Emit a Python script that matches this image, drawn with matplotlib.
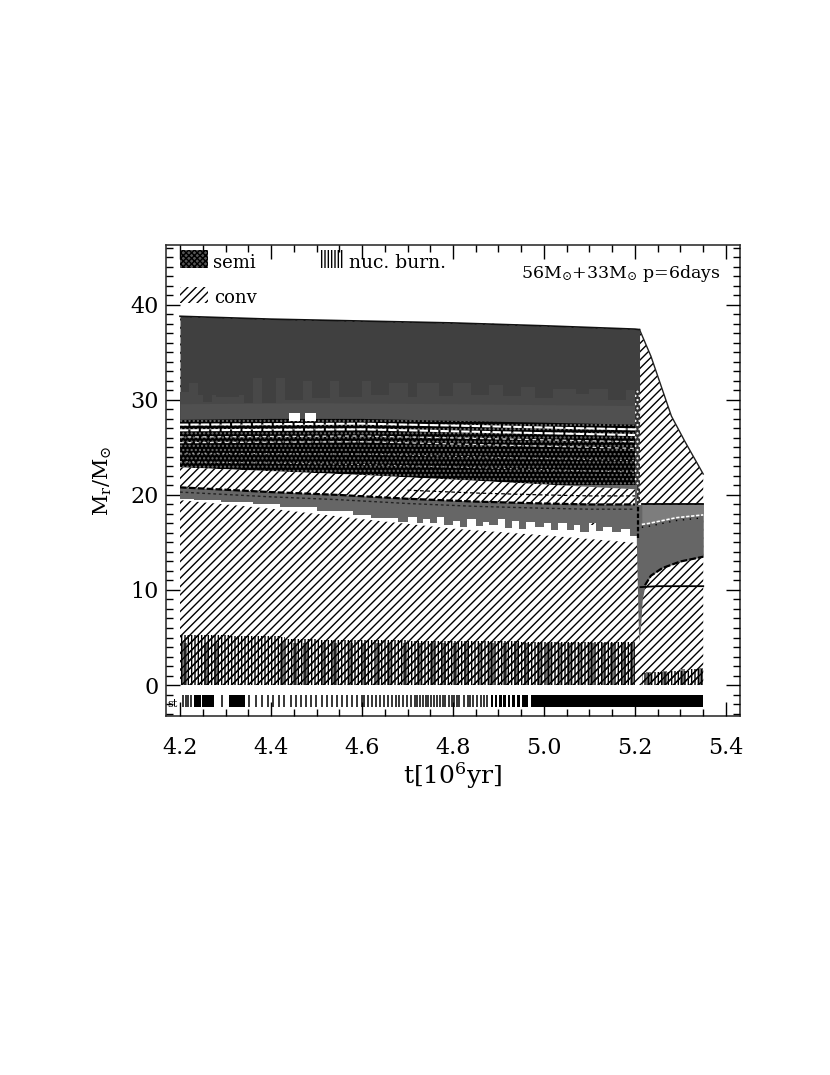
import matplotlib
matplotlib.use("Agg")
import matplotlib.pyplot as plt
from matplotlib.ticker import MultipleLocator

plt.rcParams['font.family'] = ['DejaVu Serif']
plt.rcParams['mathtext.fontset'] = 'dejavuserif'
plt.rcParams['hatch.linewidth'] = 1.0

# ---- structure boundaries (t in 10^6 yr, mass in Msun) ----
surf_t = [4.2, 4.27, 4.33, 4.4, 4.5, 4.6, 4.7, 4.8, 4.9, 5.0, 5.1, 5.21, 5.235, 5.255, 5.28, 5.31, 5.35]
surf_m = [38.8, 38.7, 38.6, 38.5, 38.4, 38.3, 38.2, 38.1, 38.0, 37.8, 37.6, 37.4, 34.6, 31.8, 28.3, 25.6, 22.2]

env_t = [4.2, 4.4, 4.6, 4.8, 5.0, 5.2, 5.21]
env_bot = [27.9, 28.0, 28.0, 27.8, 27.6, 27.4, 27.4]
env_top = [38.8, 38.5, 38.3, 38.1, 37.8, 37.45, 37.4]

light_t = [4.2, 4.22, 4.24, 4.25, 4.27, 4.28, 4.33, 4.34, 4.36, 4.38, 4.41, 4.43, 4.47, 4.49, 4.53, 4.55, 4.6, 4.62, 4.66, 4.7, 4.72, 4.77, 4.8, 4.84, 4.88, 4.91, 4.95, 4.98, 5.02, 5.07, 5.1, 5.14, 5.18, 5.21]
light_m = [30.8, 31.8, 30.5, 29.8, 30.5, 30.3, 30.5, 29.7, 32.3, 29.7, 32.3, 30.0, 32.0, 30.2, 32.0, 30.3, 32.0, 30.5, 31.8, 30.3, 31.8, 30.4, 31.8, 30.5, 31.6, 30.4, 31.4, 30.2, 31.2, 30.6, 31.2, 30.0, 31.0, 30.5]
lower_t = [4.2, 4.5, 4.8, 5.21]
lower_m = [29.6, 29.7, 29.6, 29.4]

dense_t = [4.2, 4.4, 4.6, 4.8, 5.0, 5.2, 5.21]
dense_top = [27.9, 28.0, 28.0, 27.8, 27.6, 27.4, 27.4]
dense_bot = [22.9, 22.5, 22.1, 21.6, 21.1, 20.6, 20.4]

streak_t = [4.2, 4.6, 5.2]
streak_levels = [[27.4, 27.5, 26.9], [26.8, 26.9, 26.3], [26.1, 26.2, 25.6], [25.5, 25.6, 24.9], [24.4, 24.3, 23.6], [23.5, 23.2, 22.4]]

band_t = [4.2, 4.4, 4.55, 4.7, 4.85, 5.0, 5.1, 5.2]
band_top = [20.8, 20.3, 20.0, 19.6, 19.3, 19.1, 19.0, 19.0]
band_hatch_top = [22.9, 22.5, 22.2, 21.85, 21.5, 21.1, 20.85, 20.6]

low_t = [4.2, 4.23, 4.26, 4.29, 4.33, 4.36, 4.42, 4.5, 4.58, 4.62, 4.66, 4.68, 4.7, 4.72, 4.735, 4.75, 4.765, 4.78, 4.8, 4.815, 4.83, 4.85, 4.865, 4.88, 4.9, 4.915, 4.93, 4.945, 4.96, 4.98, 5.0, 5.015, 5.03, 5.05, 5.065, 5.08, 5.1, 5.115, 5.13, 5.15, 5.17, 5.19, 5.205]
low_m = [19.6, 19.5, 19.5, 19.3, 19.3, 19.0, 18.7, 18.3, 17.9, 17.6, 17.6, 17.2, 17.7, 17.0, 17.5, 17.0, 17.7, 16.8, 17.3, 16.6, 17.5, 16.7, 17.2, 16.8, 17.5, 16.5, 17.3, 16.4, 17.2, 16.6, 17.1, 16.3, 17.0, 16.3, 16.8, 16.1, 17.0, 16.2, 16.6, 16.1, 16.4, 15.7, 15.5]

limit_t = [4.2, 4.4, 4.6, 4.8, 5.0, 5.205]
limit_m = [19.5, 18.6, 17.5, 16.5, 15.8, 15.0]

post_t = [5.203, 5.208, 5.212, 5.216, 5.222, 5.235, 5.26, 5.3, 5.35]
post_low = [15.0, 4.6, 6.0, 9.0, 10.5, 11.5, 12.3, 13.0, 13.5]
post_top = [19.0, 19.0, 19.0, 19.0, 19.0, 19.0, 19.0, 19.0, 19.0]
fringe_t = [5.215, 5.23, 5.25, 5.27, 5.29, 5.31, 5.33, 5.35]
fringe_m = [16.9, 17.0, 17.2, 17.4, 17.6, 17.7, 17.8, 17.9]
shell_t = [5.212, 5.25, 5.3, 5.35]
shell_m = [10.3, 10.4, 10.4, 10.4]

nuc_t = [4.2, 4.31, 4.42, 4.43, 4.5, 4.7, 4.95, 5.0, 5.2]
nuc_m = [5.3, 5.2, 5.1, 4.8, 4.7, 4.6, 4.55, 4.5, 4.4]
nuc2_t = [5.215, 5.24, 5.28, 5.32, 5.35]
nuc2_m = [1.3, 1.4, 1.5, 1.7, 1.8]

gray_cols = [4.205, 4.252, 4.275, 4.42, 4.448, 4.471, 4.51, 4.535, 4.57, 4.60, 4.63, 4.655, 4.69, 4.72, 4.75, 4.775, 4.80, 4.825, 4.855, 4.88, 4.91, 4.935, 4.955, 4.985, 5.005, 5.03, 5.05, 5.075, 5.10, 5.125, 5.145, 5.17, 5.19, 5.225, 5.26, 5.30, 5.34]

strip_ticks = [4.2073, 4.2125, 4.2183, 4.2242, 4.2930, 4.3524, 4.3670, 4.3810, 4.3941, 4.4044, 4.4176, 4.4293, 4.4432, 4.4542, 4.4652, 4.4762, 4.4879, 4.4989, 4.5113, 4.5231, 4.5348, 4.5443, 4.5553, 4.5663, 4.5773, 4.5883, 4.5993, 4.6051, 4.6132, 4.6220, 4.6308, 4.6396, 4.6484, 4.6571, 4.6667, 4.6747, 4.6820, 4.6894, 4.6996, 4.7070, 4.7157, 4.7216, 4.7275, 4.7333, 4.7399, 4.7458, 4.7509, 4.7582, 4.7641, 4.7714, 4.7773, 4.7831, 4.7905, 4.7978, 4.8022, 4.8081, 4.8139, 4.8242, 4.8330, 4.8374, 4.8447, 4.8520, 4.8608, 4.8681, 4.8740]
strip_spans = [(4.2300, 4.2462), (4.2476, 4.2755), (4.3084, 4.3436), (4.8828, 4.8886), (4.8923, 4.8974), (4.9018, 4.9069), (4.9106, 4.9157), (4.9201, 4.9252), (4.9304, 4.9370), (4.9414, 4.9472), (4.9524, 4.9656), (4.9707, 5.35)]

GRAY_DARK = '#404040'
GRAY_LIGHT = '#484848'
GRAY_LOWER = '#505050'
GRAY_MID = '#666666'

fig = plt.figure(figsize=(8.30, 10.75), dpi=100, facecolor='white')
L, R, T, B = 166, 740, 245, 716
ax = fig.add_axes([L / 830, 1 - B / 1075, (R - L) / 830, (B - T) / 1075])
ax.set_xlim(4.1692, 5.4308)
ax.set_ylim(-3.26, 46.3)

CONV = '////'
# convective hatch over the whole star
ax.fill_between(surf_t, 0, surf_m, facecolor='white', edgecolor='black', hatch=CONV, linewidth=0, zorder=1)
ax.plot(surf_t[11:], surf_m[11:], color='#222222', lw=1.0, zorder=2)

# nuclear burning
for c in gray_cols:
    top = nuc_m if c < 5.21 else nuc2_m
    tt = nuc_t if c < 5.21 else nuc2_t
    h = min(m for t, m in zip(tt, top) if t >= c) if any(t >= c for t in tt) else top[-1]
    ax.bar(c, h, width=0.0095, align='edge', color='#777777', linewidth=0, zorder=1.5)
for tt, mm in ((nuc_t, nuc_m), (nuc2_t, nuc2_m)):
    ax.fill_between(tt, 0, mm, step='post', facecolor='none', edgecolor='black', hatch='|||||', linewidth=0, zorder=2)
    ax.fill_between(tt, 0, mm, step='post', facecolor='none', edgecolor='black', hatch=CONV, linewidth=0, zorder=2)

# envelope
ax.fill_between(env_t, env_bot, env_top, color=GRAY_DARK, linewidth=0, zorder=3)
ax.fill_between(light_t, 27.3, light_m, step='post', color=GRAY_LIGHT, linewidth=0, zorder=3.1)
ax.fill_between(lower_t, 27.3, lower_m, color=GRAY_LOWER, linewidth=0, zorder=3.15)
ax.plot(env_t, env_top, color='#111111', lw=1.2, zorder=3.2)

# dense semi-convective / convective layers
ax.fill_between(dense_t, dense_bot, dense_top, facecolor='black', edgecolor='#707070', hatch='....', linewidth=0, zorder=4)
for lev in streak_levels[:2]:
    ax.plot(streak_t, lev, color='white', lw=1.5, ls=(0, (4, 1)), zorder=4.5)
for lev in streak_levels[2:4]:
    ax.plot(streak_t, lev, color='#dddddd', lw=0.9, ls=(0, (3, 3)), zorder=4.5)
for lev in streak_levels[4:]:
    ax.plot(streak_t, lev, color='#bbbbbb', lw=0.8, ls=(0, (1.5, 4)), zorder=4.5)
ax.bar([4.44, 4.475], 0.8, width=0.024, bottom=27.8, align='edge', color='white', linewidth=0, zorder=5)
ax.fill_between([5.2, 5.21], [19.0, 19.0], [31.0, 31.0], facecolor='#333333', edgecolor='white', hatch='....', linewidth=0, zorder=4.6)

# semi-convective band below
ax.fill_between(limit_t, limit_m, [m + 1.5 for m in limit_m], color='white', linewidth=0, zorder=5)
ax.fill_between(low_t, low_m, 21.0, step='post', color=GRAY_MID, linewidth=0, zorder=5.1)
ax.fill_between(band_t, band_top, band_hatch_top, facecolor='white', edgecolor='black', hatch=CONV, linewidth=0, zorder=5.2)
ax.plot(band_t, band_top, color='black', lw=1.6, ls=(0, (3, 1)), zorder=5.3)
ax.plot(band_t, [m - 0.5 for m in band_top], color='#222222', lw=1.0, ls=(0, (2, 2)), zorder=5.3)
ax.plot(band_t[3:], [m + 0.9 for m in band_top[3:]], color='black', lw=0.9, ls=(0, (3, 2)), zorder=5.3)

# after the end of the main sequence
ax.fill_between(post_t, post_low, post_top, color=GRAY_MID, linewidth=0, zorder=6)
ax.fill_between(fringe_t, fringe_m, 19.0, color='#7d7d7d', linewidth=0, zorder=6.1)
ax.plot(fringe_t, fringe_m, color='white', lw=1.2, ls=(0, (2, 1)), zorder=6.2)
ax.plot(fringe_t, [m - 0.3 for m in fringe_m], color='black', lw=1.0, ls=(0, (1, 4)), zorder=6.2)
ax.plot(post_t[3:], post_top[3:], color='black', lw=1.3, zorder=6.2)
ax.plot(post_t[4:], post_low[4:], color='black', lw=1.6, ls=(0, (3, 1)), zorder=6.2)
ax.plot(shell_t, shell_m, color='black', lw=1.3, zorder=6.2)
ax.plot([5.206, 5.206], [15.5, 18.9], color='black', lw=1.6, ls=(0, (2, 1)), zorder=6.3)

# time-step strip
ax.vlines(strip_ticks, -2.3, -1.05, color='black', lw=1.1, zorder=3)
for a, b in strip_spans:
    ax.fill_between([a, b], -2.3, -1.05, color='black', linewidth=0, zorder=3)
ax.text(4.1715, -1.95, 'st', fontsize=8, ha='left', va='center', color='black')

# legend
ax.fill_between([4.2, 4.262], 43.9, 45.8, facecolor='#555555', edgecolor='black', hatch='xxxxxx', linewidth=0)
ax.fill_between([4.507, 4.56], 43.9, 45.8, facecolor='white', edgecolor='black', hatch='|||||', linewidth=0)
ax.fill_between([4.2, 4.262], 40.2, 41.9, facecolor='white', edgecolor='black', hatch=CONV, linewidth=0)
ax.text(4.272, 44.4, 'semi', fontsize=13, ha='left', va='center')
ax.text(4.572, 44.4, 'nuc. burn.', fontsize=13.5, ha='left', va='center')
ax.text(4.275, 40.7, 'conv', fontsize=13, ha='left', va='center')
ax.text(4.95, 43.3, r'56M$_{\odot}$+33M$_{\odot}$ p=6days', fontsize=12.5, ha='left', va='center')

# axes
ax.xaxis.set_major_locator(MultipleLocator(0.2))
ax.xaxis.set_minor_locator(MultipleLocator(0.05))
ax.yaxis.set_major_locator(MultipleLocator(10))
ax.yaxis.set_minor_locator(MultipleLocator(1))
ax.tick_params(which='major', direction='in', length=10, width=1, top=True, right=True, labelsize=16)
ax.tick_params(axis='x', which='major', pad=15)
ax.tick_params(axis='y', which='major', pad=5)
ax.tick_params(which='minor', direction='in', length=5, width=1, top=True, right=True)
for s in ax.spines.values():
    s.set_linewidth(1.2)
    s.set_color('#333333')
ax.set_xlabel(r't[10$^{6}$yr]', fontsize=18, labelpad=1)
ax.set_ylabel(r'M$_{\mathrm{r}}$/M$_{\odot}$', fontsize=15, labelpad=12)
ax.set_axisbelow(False)

fig.savefig('out.png', dpi=100, facecolor='white')
